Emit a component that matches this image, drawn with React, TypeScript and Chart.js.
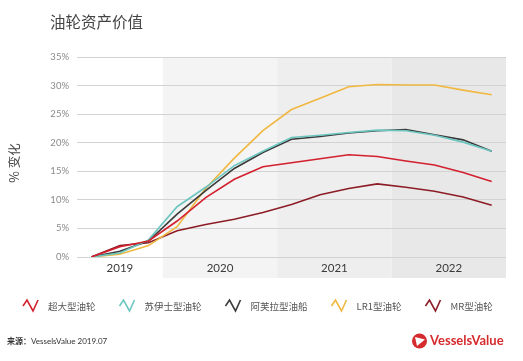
import React, { useEffect, useRef } from "react";
import { Chart, registerables } from "chart.js";

Chart.register(...registerables);

const quarters = ["Q0", "Q1", "Q2", "Q3", "Q4", "Q5", "Q6", "Q7", "Q8", "Q9", "Q10", "Q11", "Q12", "Q13", "Q14"];
const yearLabels = ["2019", "2020", "2021", "2022"];
const yearCenters = [1, 4.5, 8.5, 12.5];
const yearBands = [-0.5, 2.5, 6.5, 10.5, 14.5];
const bandColors = ["rgba(255,255,255,0)", "#f4f4f4", "#eeeeef", "#e8e8e9"];

const seriesNames = ["超大型油轮", "苏伊士型油轮", "阿芙拉型油船", "LR1型油轮", "MR型油轮"];
const seriesColors = ["#d3202f", "#6cc6c0", "#3a3a3a", "#f0b840", "#8c1d26"];

const vlcc = [0, 1.8, 2.8, 6.3, 10.4, 13.6, 15.8, 16.5, 17.2, 17.9, 17.6, 16.8, 16.1, 14.8, 13.2];
const suezmax = [0, 0.7, 3.0, 8.8, 12.2, 16.0, 18.5, 20.9, 21.3, 21.8, 22.2, 22.1, 21.3, 20.1, 18.5];
const aframax = [0, 1.0, 2.8, 7.5, 11.6, 15.5, 18.3, 20.6, 21.1, 21.7, 22.1, 22.3, 21.4, 20.5, 18.5];
const lr1 = [0, 0.5, 2.0, 5.3, 12.0, 17.3, 22.1, 25.8, 27.8, 29.8, 30.2, 30.1, 30.1, 29.2, 28.4];
const mr = [0, 2.0, 2.5, 4.6, 5.7, 6.6, 7.8, 9.2, 10.9, 12.0, 12.8, 12.2, 11.5, 10.5, 9.05];

const allSeries = [vlcc, suezmax, aframax, lr1, mr];

const titleText = "油轮资产价值";
const yTitle = "% 变化";
const sourceLabel = "来源：";
const sourceText = "VesselsValue 2019.07";
const logoText = "VesselsValue";

const bandsPlugin = {
  id: "bands",
  beforeDraw(chart: any) {
    const { ctx, chartArea, scales } = chart;
    const x = scales.x;
    ctx.save();
    for (let i = 0; i < bandColors.length; i++) {
      const x0 = x.getPixelForValue(yearBands[i]);
      const x1 = x.getPixelForValue(yearBands[i + 1]);
      ctx.fillStyle = bandColors[i];
      ctx.fillRect(x0, chartArea.top, x1 - x0, chartArea.bottom - chartArea.top + 21);
    }
    ctx.restore();
  },
};

const decorPlugin = {
  id: "decor",
  afterDraw(chart: any) {
    const { ctx, chartArea, scales } = chart;
    ctx.save();
    // x labels
    ctx.fillStyle = "#3a3a3a";
    ctx.font = '11.5px "Lato"';
    ctx.textAlign = "center";
    ctx.textBaseline = "middle";
    for (let i = 0; i < yearLabels.length; i++) {
      ctx.fillText(yearLabels[i], scales.x.getPixelForValue(yearCenters[i]), chartArea.bottom + 11);
    }

    // title
    ctx.fillStyle = "#444";
    ctx.font = '15.5px "Noto Sans CJK SC"';
    ctx.textAlign = "left";
    ctx.fillText(titleText, 50, 22);

    // y title
    ctx.save();
    ctx.translate(14, (chartArea.top + chartArea.bottom) / 2 + 6);
    ctx.rotate(-Math.PI / 2);
    ctx.textAlign = "center";
    ctx.font = '12.5px "Noto Sans CJK SC"';
    ctx.fillStyle = "#444";
    ctx.fillText(yTitle, 0, 0);
    ctx.restore();

    // legend
    const ly = 305;
    let lx = 23;
    ctx.font = '9.5px "Noto Sans CJK SC"';
    ctx.textAlign = "left";
    for (let i = 0; i < seriesNames.length; i++) {
      ctx.strokeStyle = seriesColors[i];
      ctx.lineWidth = 1.6;
      ctx.lineJoin = "miter";
      ctx.beginPath();
      ctx.moveTo(lx, ly + 1);
      ctx.lineTo(lx + 4, ly - 5);
      ctx.lineTo(lx + 10, ly + 6);
      ctx.lineTo(lx + 15, ly - 5);
      ctx.stroke();
      ctx.fillStyle = "#555";
      const tx = lx + 25;
      ctx.fillText(seriesNames[i], tx, ly + 1);
      lx = tx + ctx.measureText(seriesNames[i]).width + 24;
    }

    // source
    ctx.fillStyle = "#333";
    ctx.font = 'bold 8px "Noto Sans CJK SC"';
    ctx.fillText(sourceLabel, 7, 341);
    const w = ctx.measureText(sourceLabel).width;
    ctx.font = '8px "Lato"';
    ctx.fillText(sourceText, 7 + w, 341);

    // logo
    ctx.fillStyle = "#d52b2e";
    ctx.beginPath();
    ctx.arc(419.5, 341, 7.5, 0, Math.PI * 2);
    ctx.fill();
    ctx.fillStyle = "#fff";
    ctx.beginPath();
    ctx.moveTo(415, 337);
    ctx.lineTo(425, 339.5);
    ctx.lineTo(417, 346);
    ctx.closePath();
    ctx.fill();
    ctx.fillStyle = "#d52b2e";
    ctx.font = 'bold 13px "Lato"';
    ctx.fillText(logoText, 430, 341);
    ctx.restore();
  },
};

export default function App() {
  const ref = useRef<HTMLCanvasElement | null>(null);
  useEffect(() => {
    if (!ref.current) return;
    const chart = new Chart(ref.current, {
      type: "line",
      data: {
        labels: quarters,
        datasets: seriesNames.map((name, i) => ({
          label: name,
          data: allSeries[i].map((v, j) => ({ x: j, y: v })),
          borderColor: seriesColors[i],
          backgroundColor: seriesColors[i],
          borderWidth: 1.6,
          pointRadius: 0,
          tension: 0,
          fill: false,
        })),
      },
      options: {
        animation: false,
        responsive: true,
        maintainAspectRatio: false,
        layout: { padding: { left: 0, top: 57, right: 17, bottom: 84 } },
        plugins: {
          legend: { display: false },
          tooltip: { enabled: false },
          title: { display: false },
        },
        scales: {
          x: {
            type: "linear",
            min: -0.5,
            max: 14.5,
            grid: { display: false },
            border: { display: false },
            afterBuildTicks: (scale: any) => {
              scale.ticks = yearCenters.map((v) => ({ value: v }));
            },
            afterFit: (scale: any) => {
              scale.height = 20;
            },
            ticks: { display: false },
          },
          y: {
            min: 0,
            max: 35,
            grid: { color: "#d2d2d2", drawTicks: false, lineWidth: 1 },
            border: { display: false },
            afterFit: (scale: any) => {
              scale.width = 77;
            },
            ticks: {
              stepSize: 5,
              padding: 8,
              color: "#8a8a8a",
              font: { family: "Lato", size: 9.5 },
              callback: (v: any) => v + "%",
            },
          },
        },
      },
      plugins: [bandsPlugin, decorPlugin],
    });
    return () => chart.destroy();
  }, []);
  return (
    <div style={{ position: "fixed", left: 0, top: 0, width: 523, height: 361, background: "#fff" }}>
      <canvas ref={ref} />
    </div>
  );
}
